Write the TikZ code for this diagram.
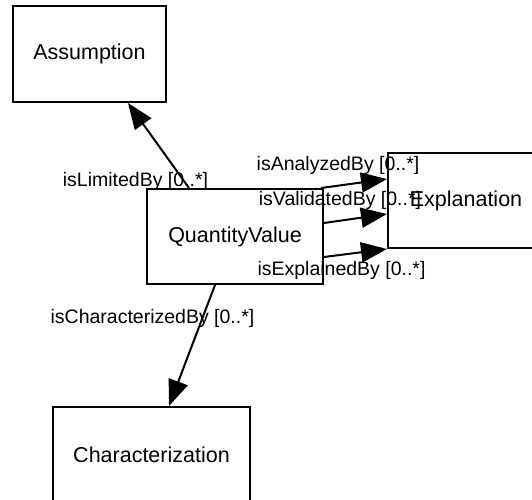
\documentclass[tikz,border=0pt]{standalone}
\usepackage{fontspec}
\setmainfont{Liberation Sans}
\usetikzlibrary{arrows.meta}
\begin{document}
\begin{tikzpicture}[x=1pt,y=-1pt,
  cls/.style={draw=black, line width=2pt, fill=white, rectangle, inner sep=0pt,
    font=\fontsize{21.5}{25}\selectfont},
  rel/.style={draw=black, line width=2pt, -{Triangle[length=26pt,width=20pt]}},
  lbl/.style={inner sep=0pt, font=\fontsize{19.5}{23}\selectfont}]
  \useasboundingbox (0,0) rectangle (532,499);
  \clip (0,0) rectangle (532,499);

  % classes
  \node[cls, minimum width=153pt, minimum height=96pt] (assumption) at (89.5,54) {Assumption};
  \node[cls, minimum width=176pt, minimum height=95pt] (qv) at (235,236.5) {QuantityValue};
  \node[cls, minimum width=156pt, minimum height=95pt] (expl) at (466,200.5) {Explanation};
  \node[cls, minimum width=197pt, minimum height=96pt] (charz) at (151.5,455) {Characterization};

  % associations
  \draw[rel] ([xshift=43pt]qv.north west) -- ([xshift=116pt]assumption.south west);
  \draw[rel] ([xshift=-3pt]qv.north east) -- ([yshift=21.5pt]expl.west);
  \draw[rel] ([yshift=13.5pt]qv.east) -- ([yshift=-13.5pt]expl.west);
  \draw[rel] ([yshift=-20.5pt]qv.east) -- (expl.south west);
  \draw[rel] ([xshift=69pt]qv.south west) -- ([xshift=117pt]charz.north west);

  % role labels
  \node[lbl] (lLim) at (135.5,181) {isLimitedBy [0..*]};
  \node[lbl] (lAna) at (338,165) {isAnalyzedBy [0..*]};
  \node[lbl] (lVal) at (340,200) {isValidatedBy [0..*]};
  \node[lbl] (lExp) at (341.5,270) {isExplainedBy [0..*]};
  \node[lbl] (lChr) at (152.5,318) {isCharacterizedBy [0..*]};
\end{tikzpicture}
\end{document}
